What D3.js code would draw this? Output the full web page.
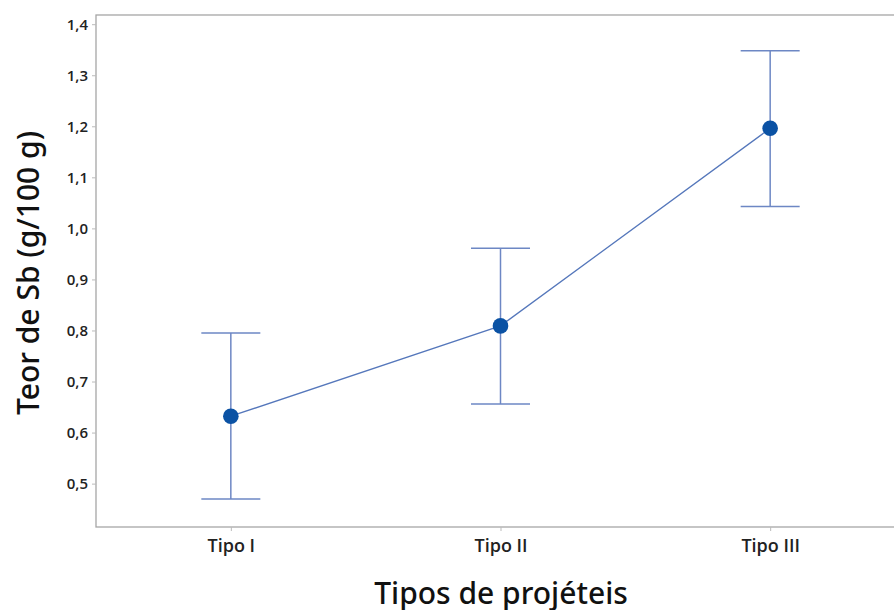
<!DOCTYPE html>
<html>
<head>
<meta charset="utf-8">
<script src="https://cdn.jsdelivr.net/npm/d3@7"></script>
<style>
  body { margin: 0; background: #fff; }
  svg { display: block; }
  svg text { font-family: "Noto Sans", "Open Sans", sans-serif; }
  svg .tick text { font-family: "Open Sans", "Noto Sans", sans-serif; }
</style>
</head>
<body>
<div id="chart"></div>
<script>
// Data
const categories = ['Tipo I', 'Tipo II', 'Tipo III'];
const means = [0.632, 0.809, 1.196];
const lower = [0.470, 0.656, 1.043];
const upper = [0.795, 0.961, 1.348];
const yTicks = [0.5, 0.6, 0.7, 0.8, 0.9, 1.0, 1.1, 1.2, 1.3, 1.4];

const width = 894;
const height = 610;
const plot = { left: 96, top: 15, right: 905, bottom: 527 };

const svg = d3.select('#chart').append('svg')
    .attr('width', width)
    .attr('height', height);

const x = d3.scalePoint()
    .domain(categories)
    .range([plot.left, plot.right])
    .padding(0.5);

const y = d3.scaleLinear()
    .domain([0.415, 1.418])
    .range([plot.bottom, plot.top]);

// Frame
svg.append('rect')
    .attr('x', plot.left)
    .attr('y', plot.top)
    .attr('width', plot.right - plot.left)
    .attr('height', plot.bottom - plot.top)
    .attr('fill', 'none')
    .attr('stroke', '#a6a6a6')
    .attr('stroke-width', 1.3);

// Y axis
const yAxis = svg.append('g')
    .attr('transform', `translate(${plot.left},0)`)
    .call(d3.axisLeft(y).tickValues(yTicks).tickSize(4).tickPadding(4)
        .tickFormat(d => d3.format('.1f')(d).replace('.', ',')));
yAxis.select('.domain').remove();
yAxis.selectAll('.tick line').attr('stroke', '#bbb');
yAxis.selectAll('.tick text')
    .attr('fill', '#222')
    .style('font-size', '15px')
    .style('font-weight', 600);

// X axis
const xAxis = svg.append('g')
    .attr('transform', `translate(0,${plot.bottom})`)
    .call(d3.axisBottom(x).tickSize(4).tickPadding(8));
xAxis.select('.domain').remove();
xAxis.selectAll('.tick line').attr('stroke', '#bbb');
xAxis.selectAll('.tick text')
    .attr('fill', '#222')
    .style('font-size', '18px')
    .style('font-weight', 600);

// Error bars
const capHalf = 29.5;
const bars = svg.append('g')
    .attr('stroke', '#6d87c4')
    .attr('stroke-width', 1.5);

categories.forEach((c, i) => {
    bars.append('line')
        .attr('x1', x(c)).attr('x2', x(c))
        .attr('y1', y(lower[i])).attr('y2', y(upper[i]));
    bars.append('line')
        .attr('x1', x(c) - capHalf).attr('x2', x(c) + capHalf)
        .attr('y1', y(upper[i])).attr('y2', y(upper[i]));
    bars.append('line')
        .attr('x1', x(c) - capHalf).attr('x2', x(c) + capHalf)
        .attr('y1', y(lower[i])).attr('y2', y(lower[i]));
});

// Connecting line
const line = d3.line()
    .x((d, i) => x(categories[i]))
    .y(d => y(d));

svg.append('path')
    .datum(means)
    .attr('d', line)
    .attr('fill', 'none')
    .attr('stroke', '#5577bb')
    .attr('stroke-width', 1.3);

// Mean points
svg.selectAll('.pt')
    .data(means)
    .enter()
    .append('circle')
    .attr('class', 'pt')
    .attr('cx', (d, i) => x(categories[i]))
    .attr('cy', d => y(d))
    .attr('r', 7.8)
    .attr('fill', '#0b52a4');

// Axis titles
svg.append('text')
    .attr('transform', 'translate(39,273) rotate(-90)')
    .attr('text-anchor', 'middle')
    .attr('fill', '#111')
    .style('font-size', '30px')
    .style('font-weight', 500)
    .text('Teor de Sb (g/100 g)');

svg.append('text')
    .attr('x', 501)
    .attr('y', 604)
    .attr('text-anchor', 'middle')
    .attr('fill', '#111')
    .style('font-size', '30px')
    .style('font-weight', 500)
    .text('Tipos de projéteis');
</script>
</body>
</html>
